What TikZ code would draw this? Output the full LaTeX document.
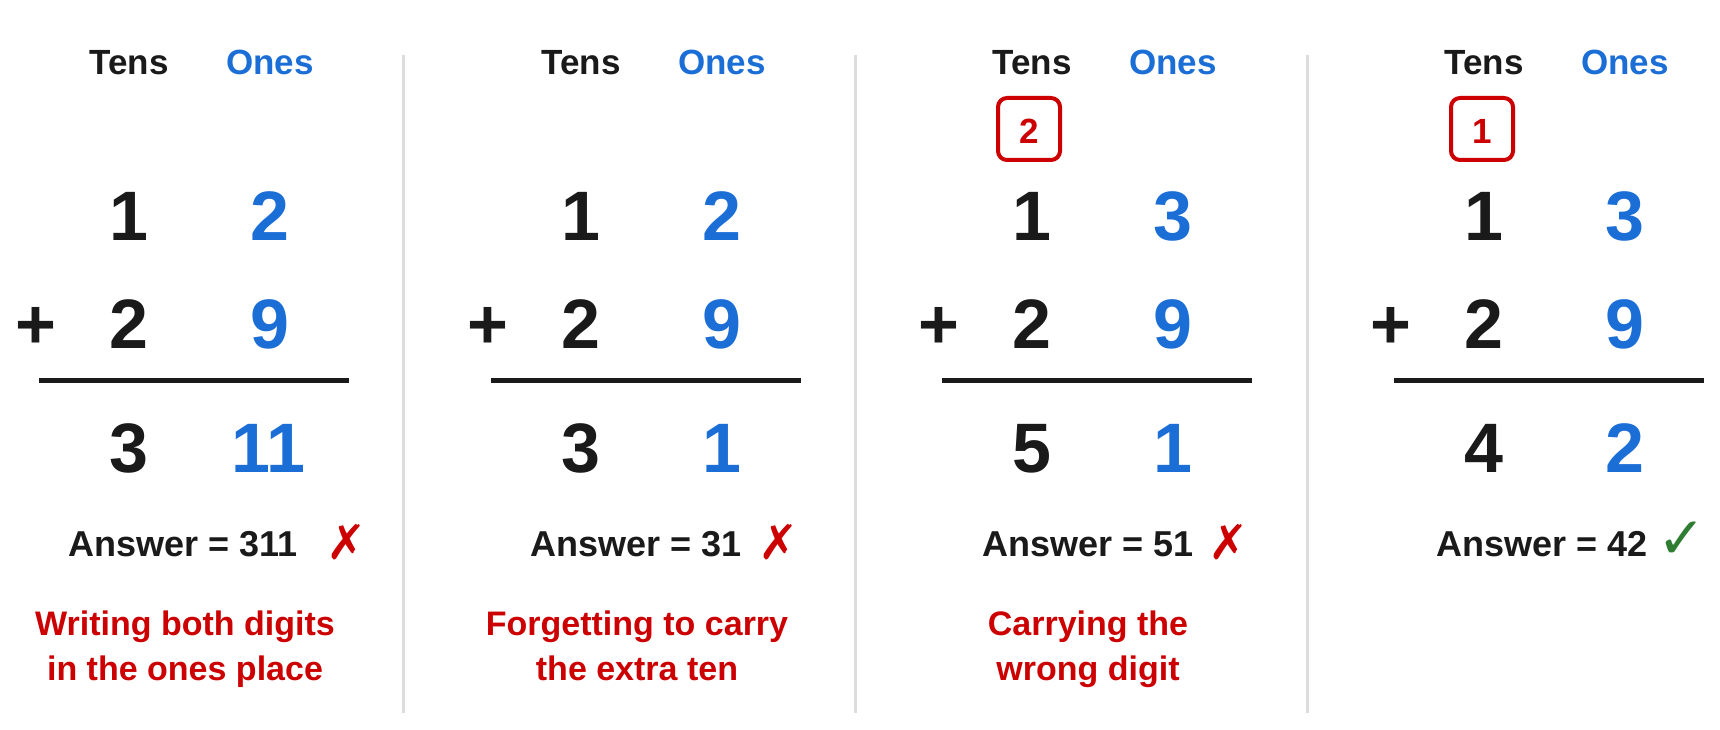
\documentclass[tikz,border=0pt]{standalone}
\usepackage{fontspec}
\setmainfont{Liberation Sans}
\newfontfamily\symfont{DejaVu Sans}
\definecolor{ink}{HTML}{1A1A1A}
\definecolor{oneblue}{HTML}{1B6ED6}
\definecolor{errred}{HTML}{CC0000}
\definecolor{okgreen}{HTML}{2E7D32}
\definecolor{divgray}{HTML}{DDDDDD}
\begin{document}
\begin{tikzpicture}[x=1pt,y=-1pt,
  every node/.style={inner sep=0pt, anchor=base},
  head/.style={font=\fontsize{35}{42}\selectfont\bfseries},
  tenshead/.style={head, text=ink},
  oneshead/.style={head, text=oneblue},
  digit/.style={font=\fontsize{70}{80}\selectfont\bfseries, text=ink},
  onedigit/.style={digit, text=oneblue},
  sumline/.style={line width=5.5pt, draw=ink},
  answer/.style={font=\fontsize{36}{42}\selectfont\bfseries, text=ink},
  wrongmark/.style={font=\symfont\fontsize{48}{54}\selectfont, text=errred, anchor=center},
  rightmark/.style={font=\symfont\fontsize{58}{64}\selectfont, text=okgreen, anchor=center},
  caption/.style={font=\fontsize{34}{42}\selectfont\bfseries, text=errred},
  carrybox/.style={draw=errred, line width=4pt, rounded corners=9pt, minimum size=62pt, anchor=center},
  carrydigit/.style={font=\fontsize{35}{42}\selectfont\bfseries, text=errred},
  divider/.style={draw=divgray, line width=3pt}]
\useasboundingbox (0,0) rectangle (1720,730);
\fill[white] (0,0) rectangle (1720,730);

% dividers
\draw[divider] (403.5,55) -- (403.5,713);
\draw[divider] (855.5,55) -- (855.5,713);
\draw[divider] (1307,55) -- (1307,713);

% ---------- panel 1 ----------
\begin{scope}[xshift=0pt]
\node[tenshead] (t1) at (129,75) {Tens};
\node[oneshead] (o1) at (270,75) {Ones};
\node[digit] (a1t) at (129,240.7) {1};
\node[onedigit] (a1o) at (270,240.7) {2};
\node[digit] (p1) at (36,348.3) {+};
\node[digit] (b1t) at (129,348.3) {2};
\node[onedigit] (b1o) at (270,348.3) {9};
\draw[sumline] (39,380.7) -- (349,380.7);
\node[digit] (r1t) at (129,472.5) {3};
\node[onedigit] (r1o) at (268,472.5) {11};
\node[answer] (ans1) at (183,556) {Answer = 311};
\node[wrongmark] (m1) at (347,542) {✗};
\node[caption] (c1a) at (185,635) {Writing both digits};
\node[caption] (c1b) at (185,680) {in the ones place};
\end{scope}

% ---------- panel 2 ----------
\begin{scope}[xshift=452pt]
\node[tenshead] (t2) at (129,75) {Tens};
\node[oneshead] (o2) at (270,75) {Ones};
\node[digit] (a2t) at (129,240.7) {1};
\node[onedigit] (a2o) at (270,240.7) {2};
\node[digit] (p2) at (36,348.3) {+};
\node[digit] (b2t) at (129,348.3) {2};
\node[onedigit] (b2o) at (270,348.3) {9};
\draw[sumline] (39,380.7) -- (349,380.7);
\node[digit] (r2t) at (129,472.5) {3};
\node[onedigit] (r2o) at (270,472.5) {1};
\node[answer] (ans2) at (184,556) {Answer = 31};
\node[wrongmark] (m2) at (327,542) {✗};
\node[caption] (c2a) at (185,635) {Forgetting to carry};
\node[caption] (c2b) at (185,680) {the extra ten};
\end{scope}

% ---------- panel 3 ----------
\begin{scope}[xshift=903pt]
\node[tenshead] (t3) at (129,75) {Tens};
\node[oneshead] (o3) at (270,75) {Ones};
\node[carrybox] (k3) at (126,129) {};
\node[carrydigit] (kd3) at (126,143.3) {2};
\node[digit] (a3t) at (129,240.7) {1};
\node[onedigit] (a3o) at (270,240.7) {3};
\node[digit] (p3) at (36,348.3) {+};
\node[digit] (b3t) at (129,348.3) {2};
\node[onedigit] (b3o) at (270,348.3) {9};
\draw[sumline] (39,380.7) -- (349,380.7);
\node[digit] (r3t) at (129,472.5) {5};
\node[onedigit] (r3o) at (270,472.5) {1};
\node[answer] (ans3) at (185,556) {Answer = 51};
\node[wrongmark] (m3) at (326,542) {✗};
\node[caption] (c3a) at (185,635) {Carrying the};
\node[caption] (c3b) at (185,680) {wrong digit};
\end{scope}

% ---------- panel 4 ----------
\begin{scope}[xshift=1355pt]
\node[tenshead] (t4) at (129,75) {Tens};
\node[oneshead] (o4) at (270,75) {Ones};
\node[carrybox] (k4) at (127,129) {};
\node[carrydigit] (kd4) at (127,143.3) {1};
\node[digit] (a4t) at (129,240.7) {1};
\node[onedigit] (a4o) at (270,240.7) {3};
\node[digit] (p4) at (36,348.3) {+};
\node[digit] (b4t) at (129,348.3) {2};
\node[onedigit] (b4o) at (270,348.3) {9};
\draw[sumline] (39,380.7) -- (349,380.7);
\node[digit] (r4t) at (129,472.5) {4};
\node[onedigit] (r4o) at (270,472.5) {2};
\node[answer] (ans4) at (187,556) {Answer = 42};
\node[rightmark] (m4) at (327,540) {✓};
\end{scope}
\end{tikzpicture}
\end{document}
